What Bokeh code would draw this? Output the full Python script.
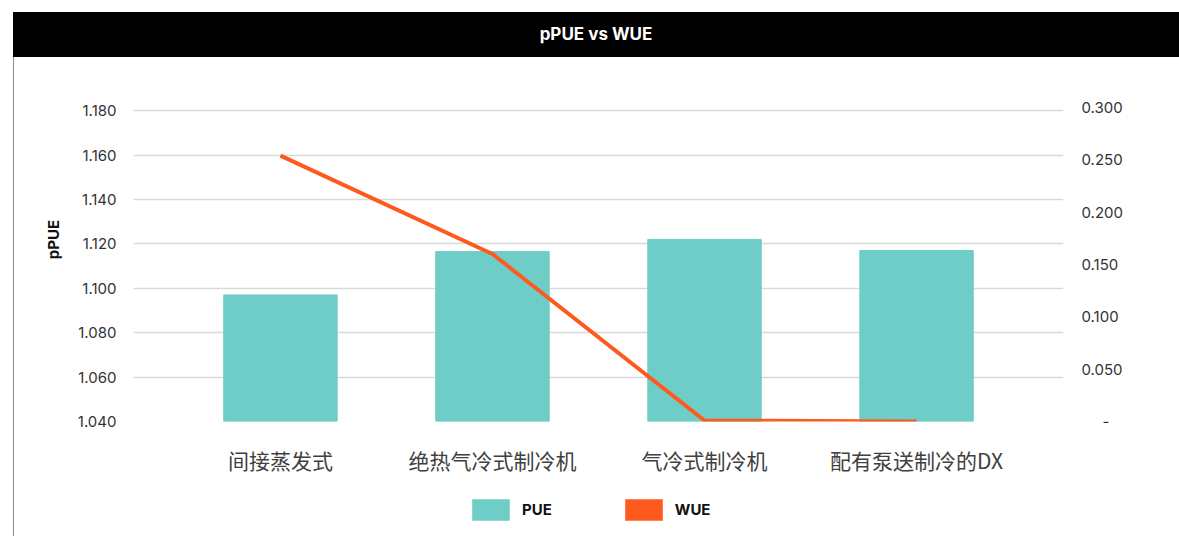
from bokeh.plotting import figure
from bokeh.models import (ColumnDataSource, FactorRange, Range1d, LinearAxis, Legend, LegendItem,
                          CustomJSTickFormatter, FixedTicker, NumeralTickFormatter, Div)
from bokeh.layouts import column
from bokeh.embed import file_html
from bokeh.resources import INLINE

categories = ["间接蒸发式", "绝热气冷式制冷机", "气冷式制冷机", "配有泵送制冷的DX"]
pue_values = [1.097, 1.1165, 1.122, 1.117]
wue_values = [0.254, 0.160, 0.001, 0.0]
left_ticks = [1.04, 1.06, 1.08, 1.10, 1.12, 1.14, 1.16, 1.18]
right_ticks = [0.0, 0.05, 0.10, 0.15, 0.20, 0.25, 0.30]
series_names = ["PUE", "WUE"]
title_text = "pPUE vs WUE"

TEAL = "#6ECDC6"
ORANGE = "#FF5A1E"
BORDER = {"border-left": "1px solid #8c8c8c"}
NB = "\u00a0"

src = ColumnDataSource(dict(cat=categories, pue=pue_values, wue=wue_values))

# ---------- title bar ----------
title = Div(text=title_text, width=1166, height=45, margin=(12, 0, 0, 13),
            styles={"background-color": "black", "color": "white", "font-weight": "bold",
                    "font-size": "17px", "text-align": "center", "line-height": "45px",
                    "font-family": "Inter"})

# ---------- main chart ----------
p = figure(width=1166, height=425, output_backend="svg", toolbar_location=None,
           x_range=FactorRange(factors=categories, range_padding=0.0965),
           y_range=Range1d(1.04, 1.1814),
           min_border_left=119, min_border_right=117, min_border_top=50, min_border_bottom=61,
           margin=(0, 0, 0, 13), styles=BORDER)
p.outline_line_color = None
p.border_fill_color = "white"
p.extra_y_ranges = {"wue": Range1d(0, 0.3)}

p.vbar(x="cat", top="pue", bottom=1.04, width=0.535, source=src,
       fill_color=TEAL, line_color=TEAL)
p.line(x="cat", y="wue", source=src, y_range_name="wue", line_color=ORANGE, line_width=4)

p.xgrid.grid_line_color = None
p.ygrid.grid_line_color = "#d9d9d9"
p.ygrid.grid_line_width = 1.5

ya = p.yaxis[0]
ya.ticker = FixedTicker(ticks=left_ticks)
ya.formatter = NumeralTickFormatter(format="0.000")
ya.axis_label = NB * 14 + "pPUE"
ya.axis_label_text_font = "Inter"
ya.axis_label_text_font_style = "bold"
ya.axis_label_text_font_size = "15px"
ya.axis_label_text_color = "#111111"
ya.axis_label_standoff = 12

ra = LinearAxis(y_range_name="wue", ticker=FixedTicker(ticks=right_ticks),
                formatter=CustomJSTickFormatter(code="return tick < 1e-9 ? '\u00a0\u00a0\u00a0\u00a0\u00a0-' : tick.toFixed(3);"))
p.add_layout(ra, "right")

for ax in [ya, ra]:
    ax.axis_line_color = None
    ax.major_tick_line_color = None
    ax.minor_tick_line_color = None
    ax.major_label_text_font = "Inter"
    ax.major_label_text_font_size = "15px"
    ax.major_label_text_color = "#333333"
ya.major_label_standoff = 11
ra.major_label_standoff = 12

xa = p.xaxis[0]
xa.axis_line_color = None
xa.major_tick_line_color = None
xa.minor_tick_line_color = None
xa.major_label_text_font = "Noto Sans CJK SC"
xa.major_label_text_font_size = "21px"
xa.major_label_text_color = "#404040"
xa.major_label_standoff = 17

# ---------- legend strip ----------
lg = figure(width=1166, height=54, output_backend="svg", toolbar_location=None,
            x_range=Range1d(0, 1), y_range=Range1d(0, 1),
            x_axis_location=None, y_axis_location=None,
            min_border_left=0, min_border_right=0, min_border_top=0, min_border_bottom=0,
            margin=(0, 0, 0, 13), styles=BORDER)
lg.grid.visible = False
lg.outline_line_color = None
# zero-size swatch renderers, only used to draw the legend glyphs
r_pue = lg.vbar(x=[0.5], top=[0], bottom=0, width=0, fill_color=TEAL, line_color=None)
r_wue = lg.vbar(x=[0.5], top=[0], bottom=0, width=0, fill_color=ORANGE, line_color=None)
legend = Legend(items=[LegendItem(label=series_names[0], renderers=[r_pue]),
                       LegendItem(label=series_names[1], renderers=[r_wue])],
                orientation="horizontal", location=(334, 13),
                glyph_width=47, glyph_height=27, label_standoff=8, spacing=68,
                label_text_font="Inter", label_text_font_style="bold", label_text_font_size="15px",
                label_text_color="#111111", border_line_color=None, background_fill_alpha=0,
                padding=0, margin=0)
lg.add_layout(legend, "center")

layout = column(title, p, lg, spacing=0)
open("out.html", "w").write(file_html(layout, INLINE))
